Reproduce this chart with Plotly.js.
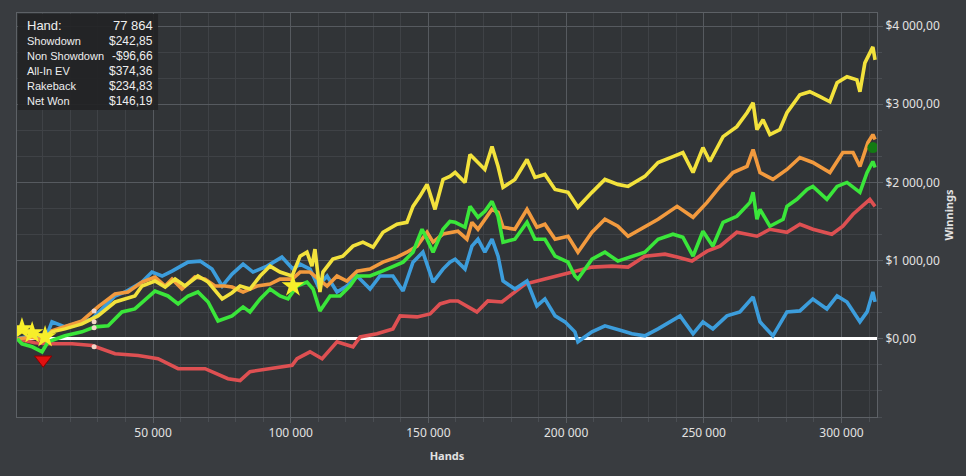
<!DOCTYPE html>
<html>
<head>
<meta charset="utf-8">
<script src="https://cdn.plot.ly/plotly-3.0.1.min.js"></script>
<style>
html,body{margin:0;padding:0;background:#393c40;}
#chart{width:966px;height:476px;}
</style>
</head>
<body>
<div id="chart"></div>
<script>
// ---- data (hands, winnings in $) ----
var redHands = [700,3500,7000,11900,20600,27900,36200,44600,51800,59100,68900,77200,81600,85200,92500,100500,102300,107000,111400,116800,122600,125200,131300,137100,139700,145900,150600,154200,157800,160700,167600,171600,176700,180400,185100,192300,202100,209400,216700,222500,228600,235900,240300,245700,251200,255900,262000,269300,274000,280200,284900,289600,296500,300500,304200,310300,312200];
var redVals  = [0,-20,-50,-64,-64,-85,-191,-213,-255,-382,-382,-510,-535,-420,-382,-340,-255,-166,-255,-38,-102,25,64,127,293,280,318,446,484,484,344,484,471,573,700,764,853,917,930,917,1057,1083,1045,994,1121,1185,1363,1312,1401,1363,1465,1401,1338,1440,1593,1784,1694];

var blueHands = [700,6000,10800,13300,18000,27900,36200,39800,46000,49600,53300,56900,62700,67100,71400,75100,78700,82700,86300,91400,96800,100800,103400,107000,109900,113200,116800,120400,124100,128800,132400,137100,140800,144400,148000,151700,155300,157800,159700,163300,165800,168000,170500,173100,175300,177100,181400,185800,189400,192300,196000,199600,203200,204300,209400,214100,220300,223900,228600,233400,241400,246100,249700,253300,258400,263100,267900,270400,275100,280200,284900,289600,294700,298400,302000,306700,309300,311400,312200];
var blueVals  = [0,40,-10,217,153,255,548,599,726,854,803,866,981,994,892,675,828,956,854,930,1045,892,956,892,675,803,599,675,803,637,803,803,611,981,1108,726,892,981,1019,892,1185,1274,1108,1274,1057,739,637,739,420,510,293,217,89,-38,89,166,102,64,38,127,293,64,217,127,293,344,535,217,38,344,357,510,382,548,471,217,344,599,471];

var orangeHands = [700,6000,10800,13300,24200,30000,36200,40900,46000,50700,54400,56900,60500,65200,68900,72500,76100,78700,82700,87800,92500,96100,100500,103400,107000,109900,113200,116800,120400,124100,128800,133500,138600,142200,145900,149500,151700,155300,160700,164000,165800,168000,173100,175300,177100,181400,185800,189400,192300,196000,200700,204300,209400,214100,218800,222500,228600,233400,240300,246100,251200,255900,260600,265700,267900,270400,275100,280200,284900,289600,295800,300500,304200,306700,309600,311400,312200];
var orangeVals  = [0,20,-20,102,229,408,573,599,726,790,675,764,637,790,764,675,675,662,599,675,700,764,764,854,854,764,675,803,739,866,892,981,1045,1108,1185,1363,1236,1340,1376,1274,1490,1401,1656,1618,1427,1401,1656,1427,1465,1274,1312,1108,1363,1529,1440,1312,1440,1529,1694,1554,1745,1949,2127,2204,2421,2127,2038,2166,2319,2255,2127,2382,2382,2204,2510,2612,2548];

var greenHands = [700,2400,6100,9700,11900,18000,24200,28900,33700,38700,43400,48200,50700,55400,59100,62700,66300,70000,73600,78700,82700,85200,88900,92500,96100,99000,102300,105900,108100,110600,114300,117900,121500,124100,128800,132400,137100,140800,144400,147700,149500,151700,155300,157800,159700,163300,165100,168000,170500,173100,175300,177100,181400,185800,188700,192300,196000,200700,203200,204300,209400,214100,218800,223900,228600,233400,238800,242400,246100,249700,253300,257000,262000,266800,267900,269300,270400,274000,278800,280200,283800,287500,289600,294700,298400,302000,306700,309300,311400,312200];
var greenVals  = [0,-64,-102,-166,-38,38,89,153,166,344,382,535,611,548,446,548,599,471,229,293,408,344,510,637,548,510,675,726,637,357,548,548,675,803,803,854,930,981,1108,1401,1274,1108,1401,1500,1490,1427,1694,1554,1631,1758,1567,1236,1274,1490,1274,1274,1057,981,803,764,1019,1108,994,1057,1108,1274,1338,1299,1057,1376,1185,1490,1567,1745,1873,1529,1656,1440,1529,1694,1784,1911,1949,1784,1949,2000,1873,2127,2268,2191];

var yellowHands = [700,2000,6000,10800,13300,18000,24200,30000,36200,39800,43400,46000,50700,54400,58000,61600,66300,70000,75100,78700,81600,85200,88900,92500,96100,100500,103400,105900,107700,108800,110600,111700,115300,118900,122600,126200,129900,133500,138600,142200,144400,146900,149500,152400,155300,157800,159700,163300,165100,168000,170500,173100,175300,177100,181400,185800,188700,192300,196000,200700,203200,204300,209400,214100,218800,222500,228600,233400,238800,242400,246100,249700,252200,257000,262000,265700,267900,269300,271500,274000,277600,280200,284900,288500,292200,295800,298400,302000,305600,306700,308500,311400,312200];
var yellowVals  = [80,127,76,25,89,127,191,293,471,510,548,675,739,662,764,675,803,726,510,590,675,637,803,930,854,803,1057,1108,930,1147,599,854,1019,1057,1185,1236,1172,1363,1465,1490,1694,1822,1975,1656,2038,2077,2127,2000,2357,2255,2166,2459,2204,1937,2038,2293,2064,2102,1911,1873,1745,1682,1873,2038,1975,1949,2077,2255,2331,2382,2127,2446,2268,2586,2714,2892,3019,2675,2803,2612,2675,2892,3121,3160,3096,3032,3274,3351,3312,3160,3529,3733,3567];

// event markers
var starHands = [2400, 6100, 10800, 100800];
var starVals  = [127, 76, 25, 675];
var dropHands = [10100];
var dropVals  = [-268];
var endHands  = [311400];
var endVals   = [2446];
var dotHands  = [28600, 28600, 28600, 28600];
var dotVals   = [357, 217, 140, -102];

// axis ticks
var xTickVals = [50000, 100000, 150000, 200000, 250000, 300000];
var xTickText = ["50 000", "100 000", "150 000", "200 000", "250 000", "300 000"];
var yTickVals = [0, 1000, 2000, 3000, 4000];
var yTickText = ["$0,00", "$1 000,00", "$2 000,00", "$3 000,00", "$4 000,00"];

// hover box
var statLabels = ["Hand:", "Showdown", "Non Showdown", "All-In EV", "Rakeback", "Net Won"];
var statValues = ["77 864", "$242,85", "-$96,66", "$374,36", "$234,83", "$146,19"];

function line(x, y, color, name) {
  return {x: x, y: y, type: 'scatter', mode: 'lines', name: name,
          line: {color: color, width: 3.6}, hoverinfo: 'skip'};
}

var traces = [
  line(redHands, redVals, '#de5052', 'Non Showdown'),
  line(blueHands, blueVals, '#3c9ddc', 'Showdown'),
  line(orangeHands, orangeVals, '#f29a3e', 'Rakeback'),
  line(greenHands, greenVals, '#3ae63a', 'Net Won'),
  line(yellowHands, yellowVals, '#f3e23c', 'All-In EV'),
  {x: dotHands, y: dotVals, type: 'scatter', mode: 'markers',
   marker: {color: '#f2d6c8', size: 5}, hoverinfo: 'skip'},
  {x: starHands, y: starVals, type: 'scatter', mode: 'markers',
   marker: {symbol: 'star', color: '#f7ee2a', size: 17, line: {width: 0}}, hoverinfo: 'skip'},
  {x: dropHands, y: dropVals, type: 'scatter', mode: 'markers',
   marker: {symbol: 'triangle-down', color: '#e01010', size: 15, line: {color: '#8a0000', width: 1}}, hoverinfo: 'skip'},
  {x: endHands, y: endVals, type: 'scatter', mode: 'markers',
   marker: {symbol: 'circle', color: '#137a13', size: 11, line: {width: 0}}, hoverinfo: 'skip'}
];

var font = "'Noto Sans', 'Open Sans', sans-serif";
var boxFont = "'Liberation Sans', Arial, sans-serif";
var annotations = [];
var rowY = [0.968, 0.931, 0.894, 0.857, 0.820, 0.783];
for (var i = 0; i < statLabels.length; i++) {
  annotations.push({xref: 'paper', yref: 'paper', x: 0.009, y: rowY[i], xanchor: 'left', yanchor: 'middle',
    text: statLabels[i], showarrow: false,
    font: {family: boxFont, size: i === 0 ? 13 : 11, color: '#eeeeee'}});
  annotations.push({xref: 'paper', yref: 'paper', x: 0.1605, y: rowY[i], xanchor: 'right', yanchor: 'middle',
    text: statValues[i], showarrow: false,
    font: {family: boxFont, size: i === 0 ? 13 : 12, color: '#eeeeee'}});
}

var layout = {
  width: 966, height: 476,
  margin: {l: 17, r: 89, t: 13, b: 59},
  paper_bgcolor: '#393c40',
  plot_bgcolor: '#313437',
  showlegend: false,
  font: {family: font, color: '#e2e2e2', size: 12},
  xaxis: {
    range: [600, 312900],
    tickmode: 'array', tickvals: xTickVals, ticktext: xTickText,
    showgrid: true, gridcolor: '#565a5f', gridwidth: 1,
    minor: {tickmode: 'linear', tick0: 0, dtick: 10000, showgrid: true, gridcolor: '#3f4246', ticks: 'outside', ticklen: 4, tickcolor: '#4a4e53'},
    ticks: 'outside', ticklen: 5, tickcolor: '#5a5e63',
    showline: true, linecolor: '#5d6166', linewidth: 1, mirror: true,
    zeroline: false,
    tickfont: {size: 12, color: '#e2e2e2'},
    title: {text: 'Hands', font: {size: 11, color: '#e2e2e2', weight: 'bold'}, standoff: 11}
  },
  yaxis: {
    side: 'right',
    range: [-1000, 4167],
    tickmode: 'array', tickvals: yTickVals, ticktext: yTickText,
    showgrid: true, gridcolor: '#565a5f', gridwidth: 1,
    minor: {tickmode: 'linear', tick0: 0, dtick: 333.333, showgrid: true, gridcolor: '#3f4246', ticks: 'outside', ticklen: 4, tickcolor: '#4a4e53'},
    ticks: 'outside', ticklen: 5, tickcolor: '#5a5e63',
    showline: true, linecolor: '#5d6166', linewidth: 1, mirror: true,
    zeroline: true, zerolinecolor: '#ffffff', zerolinewidth: 3,
    tickfont: {size: 12, color: '#e2e2e2'},
    title: {text: 'Winnings', font: {size: 11, color: '#e2e2e2', weight: 'bold'}, standoff: 6}
  },
  shapes: [
    {type: 'rect', xref: 'paper', yref: 'paper', x0: 0.001, x1: 0.164, y0: 0.760, y1: 0.9975,
     fillcolor: 'rgba(34,35,37,0.92)', line: {width: 0}, layer: 'above'}
  ],
  annotations: annotations
};

Plotly.newPlot('chart', traces, layout, {staticPlot: true, displayModeBar: false});
</script>
</body>
</html>
